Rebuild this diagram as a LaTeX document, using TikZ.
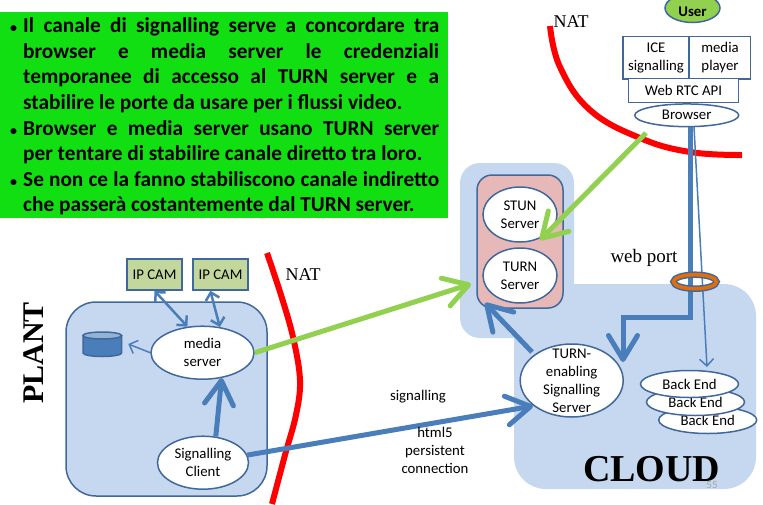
\documentclass[tikz,border=0pt]{standalone}
\usepackage{fontspec}
\setmainfont{Carlito}
\newfontfamily\timesfont{Liberation Serif}
\usetikzlibrary{arrows.meta,shapes.geometric}
\definecolor{boxline}{HTML}{41689A}
\definecolor{flowblue}{HTML}{4A7EBB}
\definecolor{panelblue}{HTML}{C6D8F0}
\definecolor{flowgreen}{HTML}{92D050}
\definecolor{notegreen}{HTML}{12DF12}
\definecolor{camgreen}{HTML}{C3D69B}
\definecolor{stackpink}{HTML}{E6B9B8}
\definecolor{ringorange}{HTML}{E46C0A}
\tikzset{
  ovaltext/.style={inner sep=0pt, align=center, font=\fontsize{14.8}{18}\selectfont},
  oval/.style={ellipse, draw=boxline, line width=1.5pt, fill=white, inner sep=0pt, label={[ovaltext]center:{#1}}},
  apibox/.style={rectangle, draw=boxline, line width=1.5pt, fill=white, inner sep=0pt, align=center, font=\fontsize{14.8}{18}\selectfont},
  cambox/.style={apibox, fill=camgreen, minimum width=55pt, minimum height=31pt},
  panel/.style={fill=panelblue, rounded corners=#1},
  natline/.style={red, line width=6pt},
  widearrow/.style={line width=5pt, -{Straight Barb[round,length=24pt,width=29pt,line width=5pt]}},
  bigflow/.style={widearrow, flowblue},
  greenflow/.style={widearrow, flowgreen},
  thinflow/.style={flowblue, line width=1.5pt, -{Straight Barb[length=7pt,width=14pt,line width=1.5pt]}},
  camflow/.style={flowblue, line width=2.5pt, {Straight Barb[length=7pt,width=14pt,line width=2.5pt]}-{Straight Barb[length=7pt,width=14pt,line width=2.5pt]}},
  serifnote/.style={font=\timesfont\fontsize{#1}{20}\selectfont},
  plainnote/.style={font=\fontsize{14.8}{18}\selectfont, align=center}
}
\newcommand{\notebullet}{\leavevmode\llap{{\fontsize{14}{14}\selectfont\textbullet}\hspace{6pt}}}
\begin{document}
\begin{tikzpicture}[x=1pt,y=-1pt]
    \useasboundingbox (0,0) rectangle (763,504);

    % Text panel
    \fill[notegreen] (0,12) rectangle (448,218);
    \node[anchor=north west, text width=416pt, inner sep=0pt, align=justify,
          font=\fontsize{21.3}{25.6}\selectfont\bfseries] (notes) at (23,17.5) {%
      \hyphenpenalty=10000
      \notebullet Il canale di signalling serve a concordare tra\linebreak
      browser e media server le credenziali\linebreak
      temporanee di accesso al TURN server e a\linebreak
      stabilire le porte da usare per i flussi video.\par
      \notebullet Browser e media server usano TURN server\linebreak
      per tentare di stabilire canale diretto tra loro.\par
      \notebullet Se non ce la fanno stabiliscono canale indiretto\linebreak
      che passer\`a costantemente dal TURN server.};

    % Background panels
    \fill[panel=32pt] (514,284) rectangle (756,489);
    \fill[panel=20pt] (460,163) rectangle (574,338);
    \draw[boxline, line width=1.5pt, fill=panelblue, rounded corners=30pt] (66,302) rectangle (267,496);
    \draw[boxline, line width=1.5pt, fill=stackpink, rounded corners=15pt] (477,175) rectangle (563,308);

    % NAT boundaries
    \draw[natline] plot [smooth, tension=0.7] coordinates {(550,26) (560,67) (590,110) (640,138) (690,152) (742,155)};
    \draw[natline] plot [smooth, tension=0.6] coordinates {(267,253) (281,295) (293,337) (300,380) (296,415) (285,455) (272,504)};
    \node[serifnote=18] (nattop) at (571,22) {NAT};
    \node[serifnote=18] (natleft) at (303,275) {NAT};

    % User side
    \node[ellipse, draw=boxline, line width=1.5pt, fill=flowgreen, inner sep=0pt, minimum width=55pt, minimum height=29pt] (user) at (692.5,8) {};
    \node[font=\fontsize{14.8}{18}\selectfont\bfseries] (usertext) at (692.5,12) {User};
    \node[apibox, minimum width=66pt, minimum height=42.5pt] (ice) at (656,57.5) {ICE\\signalling};
    \node[apibox, minimum width=61pt, minimum height=42.5pt] (player) at (720,57.5) {media\\player};
    \node[apibox, minimum width=110pt, minimum height=24pt] (webrtc) at (683.5,90.7) {Web RTC API};
    \node[oval={Browser}, minimum width=104pt, minimum height=22.7pt] (browser) at (686.7,115.3) {};

    % STUN and TURN
    \node[oval={STUN\\Server}, minimum width=74pt, minimum height=55pt] (stun) at (520,214.5) {};
    \node[oval={TURN\\Server}, minimum width=74pt, minimum height=55pt] (turn) at (520,275.5) {};

    % Cloud side
    \node[oval={TURN-\\enabling\\Signalling\\Server}, minimum width=103pt, minimum height=73pt] (sigserver) at (571.7,380.5) {};
    \node[oval={Back End}, minimum width=98pt, minimum height=27pt] (backc) at (707.7,420) {};
    \node[oval={Back End}, minimum width=98pt, minimum height=27pt] (backb) at (695.5,402) {};
    \node[oval={Back End}, minimum width=98pt, minimum height=27pt] (backa) at (689.5,384) {};
    \node[font=\timesfont\bfseries\fontsize{38}{40}\selectfont] (cloud) at (651.7,469) {CLOUD};
    \node[font=\fontsize{11}{12}\selectfont, text=gray!70] (pagenum) at (712,485) {55};

    % Plant side
    \node[cambox] (cama) at (154.5,274.5) {IP CAM};
    \node[cambox] (camb) at (220.5,274.5) {IP CAM};
    \node[oval={media\\server}, minimum width=103pt, minimum height=53pt] (media) at (202.5,352.7) {};
    \node[oval={Signalling\\Client}, minimum width=91pt, minimum height=53pt] (sigclient) at (203,462.7) {};
    \node[font=\timesfont\bfseries\fontsize{30}{32}\selectfont, rotate=90] (plant) at (34,353) {PLANT};

    % Disk
    \draw[boxline, line width=1.5pt, fill=flowblue] (83,335.5) -- (83,353) arc[start angle=180, end angle=360, x radius=19.3pt, y radius=3.5pt] -- (121.6,335.5) -- cycle;
    \draw[boxline, line width=1.5pt, fill=flowblue!60!white] (102.3,335.5) ellipse (19.3pt and 3.5pt);

    % Connector end points
    \coordinate (ringcentre) at (695,281.7);
    \coordinate (portbend) at (690,317);
    \coordinate (sigtop) at (623,362);
    \coordinate (backtop) at (707,367);
    \coordinate (thinstart) at (694,127);
    \coordinate (turntip) at (485,303);
    \coordinate (turnfoot) at (532,352);
    \coordinate (stuntip) at (540,240);
    \coordinate (browserfoot) at (646,133);
    \coordinate (paneltip) at (471,284);
    \coordinate (sigtip) at (533,406);
    \coordinate (disktip) at (128.3,344);

    % Web port opening
    \fill[white] (ringcentre) ellipse (21.5pt and 7pt);

    % Signalling flows
    \draw[bigflow] (browser.south -| portbend) -- (portbend) -| (sigtop);
    \draw[thinflow] (thinstart) -- (backtop);
    \draw[bigflow] (turnfoot) -- (turntip);
    \draw[bigflow] (sigclient) -- (sigtip);
    \draw[bigflow] (sigclient.64) -- (media.-53);

    % Media flows
    \draw[greenflow] (browserfoot) -- (stuntip);
    \draw[greenflow] (media.east) -- (paneltip);
    \draw[camflow] (cama.south) -- (media.120);
    \draw[camflow] (camb.-122) -- (media.56);
    \draw[thinflow] (media.west) -- (disktip);

    % Web port ring
    \draw[boxline, line width=6.5pt] (ringcentre) ellipse (21.5pt and 7pt);
    \draw[ringorange, line width=3.5pt] (ringcentre) ellipse (21.5pt and 7pt);
    \node[serifnote=19] (webport) at (644,258) {web port};

    % Link labels
    \node[plainnote] (signalling) at (418,397) {signalling};
    \node[plainnote] (persistent) at (435,450) {html5\\persistent\\connection};
\end{tikzpicture}
\end{document}
